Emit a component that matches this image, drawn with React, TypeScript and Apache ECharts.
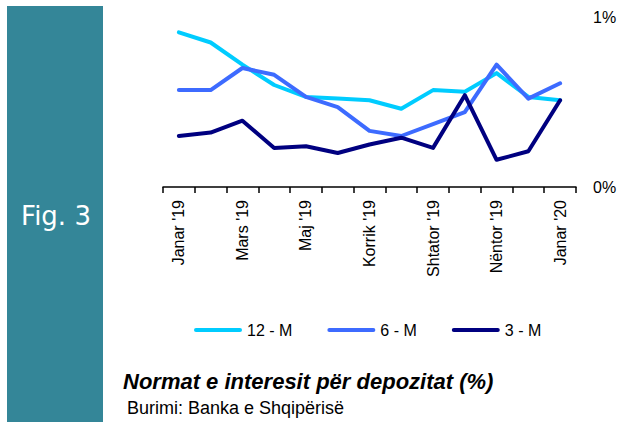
import React, { useEffect, useRef } from "react";
import * as echarts from "echarts";

const categories = [
  "Janar '19", "Shkurt '19", "Mars '19", "Prill '19", "Maj '19", "Qershor '19",
  "Korrik '19", "Gusht '19", "Shtator '19", "Tetor '19", "Nëntor '19", "Dhjetor '19", "Janar '20",
];
const m12 = [0.91, 0.85, 0.72, 0.60, 0.53, 0.52, 0.51, 0.46, 0.57, 0.56, 0.67, 0.53, 0.51];
const m6 = [0.57, 0.57, 0.70, 0.66, 0.53, 0.47, 0.33, 0.30, 0.37, 0.44, 0.72, 0.52, 0.61];
const m3 = [0.30, 0.32, 0.39, 0.23, 0.24, 0.20, 0.25, 0.29, 0.23, 0.54, 0.16, 0.21, 0.51];
const seriesNames = ["12 - M", "6 - M", "3 - M"];
const seriesColors = ["#00CCFF", "#3D6BFF", "#000080"];
const yTicks = [0, 1];

const FONT = "'Liberation Sans', Arial, sans-serif";

export default function App() {
  const ref = useRef<HTMLDivElement>(null);
  useEffect(() => {
    if (!ref.current) return;
    const chart = echarts.init(ref.current, null, { renderer: "svg" });
    const data = [m12, m6, m3];
    chart.setOption({
      animation: false,
      backgroundColor: "#ffffff",
      grid: { left: 163, right: 51, top: 17, bottom: 235, containLabel: false },
      legend: {
        left: 189,
        top: 317,
        itemWidth: 48,
        itemHeight: 4,
        itemGap: 35,
        icon: "path://M2,0 H46 A2,2 0 0 1 46,4 H2 A2,2 0 0 1 2,0 Z",
        data: seriesNames,
        textStyle: { fontFamily: FONT, fontSize: 16, color: "#000", lineHeight: 16 },
      },
      xAxis: {
        type: "category",
        data: categories,
        boundaryGap: true,
        axisLine: { show: true, lineStyle: { color: "#000", width: 1.5 } },
        axisTick: { show: true, interval: 0, length: 6, lineStyle: { color: "#000", width: 1.5 } },
        axisLabel: {
          interval: 1,
          rotate: 90,
          margin: 13,
          fontFamily: FONT,
          fontSize: 16,
          color: "#000",
        },
        splitLine: { show: false },
      },
      yAxis: {
        type: "value",
        position: "right",
        min: yTicks[0],
        max: yTicks[yTicks.length - 1],
        interval: 1,
        axisLine: { show: false },
        axisTick: { show: false },
        splitLine: { show: false },
        axisLabel: {
          margin: 17,
          fontFamily: FONT,
          fontSize: 16,
          color: "#000",
          formatter: "{value}%",
        },
      },
      series: seriesNames.map((name, i) => ({
        name,
        type: "line",
        data: data[i],
        showSymbol: false,
        symbol: "none",
        itemStyle: { color: seriesColors[i] },
        lineStyle: { color: seriesColors[i], width: 4, cap: "round", join: "round" },
      })),
      graphic: [
        {
          type: "rect",
          shape: { x: 7, y: 6, width: 96, height: 420 },
          style: { fill: "#348698" },
          z: -1,
        },
        {
          type: "text",
          x: 56,
          y: 216,
          style: {
            text: "Fig. 3",
            fill: "#ffffff",
            font: "26px 'DejaVu Sans', sans-serif",
            textAlign: "center",
            textVerticalAlign: "middle",
          },
        },
        {
          type: "text",
          x: 123,
          y: 381,
          style: {
            text: "Normat e interesit për depozitat (%)",
            fill: "#000",
            font: "italic bold 22px 'Liberation Sans', Arial, sans-serif",
            textAlign: "left",
            textVerticalAlign: "middle",
          },
        },
        {
          type: "text",
          x: 127,
          y: 408,
          style: {
            text: "Burimi: Banka e Shqipërisë",
            fill: "#000",
            font: "18px 'Liberation Sans', Arial, sans-serif",
            textAlign: "left",
            textVerticalAlign: "middle",
          },
        },
      ],
    });
    return () => chart.dispose();
  }, []);
  return (
    <div
      ref={ref}
      style={{ position: "fixed", left: 0, top: 0, width: 627, height: 422 }}
    />
  );
}
